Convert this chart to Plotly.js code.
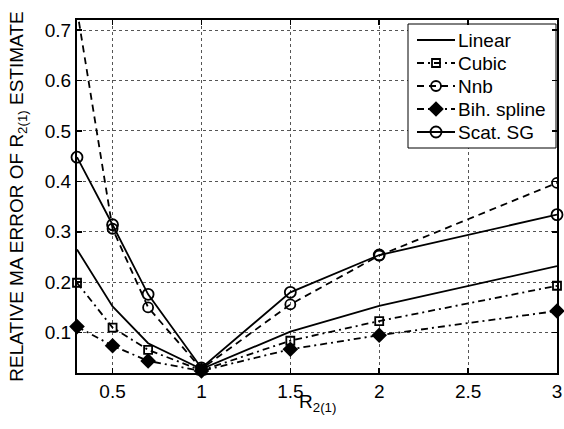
<!DOCTYPE html>
<html>
<head>
<meta charset="utf-8">
<script src="https://cdn.plot.ly/plotly-3.0.1.min.js"></script>
<style>html,body{margin:0;padding:0;background:#fff;}#chart{width:564px;height:429px;}</style>
</head>
<body>
<div id="chart"></div>
<script>
// ---- data ----
const xVals = [0.3, 0.5, 0.7, 1, 1.5, 2, 3];
const linearVals = [0.265, 0.152, 0.079, 0.028, 0.102, 0.153, 0.232];
const cubicVals = [0.199, 0.110, 0.066, 0.025, 0.084, 0.123, 0.193];
const nnbVals = [0.74, 0.306, 0.150, 0.028, 0.156, 0.253, 0.397];
const bihVals = [0.112, 0.074, 0.044, 0.024, 0.067, 0.095, 0.143];
const scatVals = [0.448, 0.314, 0.176, 0.030, 0.180, 0.254, 0.334];
const seriesNames = ["Linear", "Cubic", "Nnb", "Bih. spline", "Scat. SG"];
const xTicks = [0.5, 1, 1.5, 2, 2.5, 3];
const yTicks = [0.1, 0.2, 0.3, 0.4, 0.5, 0.6, 0.7];

// ---- styles ----
const FONT = "Liberation Sans, Arial, Helvetica, sans-serif";
const FS = 19;
const LW = 1.8;
const DASH = "7px,5px";
const DASHDOT = "7px,4px,2px,4px";
const styles = [
  {line: {color: "#000", width: LW}, marker: null},
  {line: {color: "#000", width: LW, dash: DASHDOT},
   marker: {symbol: "square-open", size: 8, color: "#000", line: {width: 1.8, color: "#000"}}},
  {line: {color: "#000", width: LW, dash: DASH},
   marker: {symbol: "circle-open", size: 10, color: "#000", line: {width: 1.8, color: "#000"}}},
  {line: {color: "#000", width: LW, dash: DASHDOT},
   marker: {symbol: "diamond", size: 12, color: "#000", line: {width: 0, color: "#000"}}},
  {line: {color: "#000", width: LW},
   marker: {symbol: "circle-open", size: 11, color: "#000", line: {width: 1.8, color: "#000"}}}
];
const seriesVals = [linearVals, cubicVals, nnbVals, bihVals, scatVals];
const clip = [true, false, true, false, false];

const X_RANGE = [0.3, 3], Y_RANGE = [0.02, 0.72];

const traces = seriesVals.map((vals, i) => {
  const t = {x: xVals, y: vals, name: seriesNames[i], showlegend: false,
             mode: styles[i].marker ? "lines+markers" : "lines",
             cliponaxis: clip[i], line: styles[i].line, hoverinfo: "skip"};
  if (styles[i].marker) t.marker = styles[i].marker;
  return t;
});

// ---- legend (drawn in a pixel-unit overlay frame) ----
const plotL = 77, plotR = 557, plotT = 20, plotB = 373;
const leg = {x0: 408, x1: 556, y0: 24, y1: 148, firstRow: 40, rowStep: 23,
             sampleX0: 417, sampleX1: 455, textX: 457};
const pxToX = px => X_RANGE[0] + (px - plotL) / (plotR - plotL) * (X_RANGE[1] - X_RANGE[0]);
const pxToY = py => Y_RANGE[1] - (py - plotT) / (plotB - plotT) * (Y_RANGE[1] - Y_RANGE[0]);
const legendAnn = [];
seriesNames.forEach((name, i) => {
  const ry = leg.firstRow + i * leg.rowStep;
  traces.push({x: [leg.sampleX0, leg.sampleX1], y: [ry, ry], xaxis: "x2", yaxis: "y2",
               mode: "lines", line: styles[i].line, showlegend: false, hoverinfo: "skip"});
  if (styles[i].marker) {
    traces.push({x: [(leg.sampleX0 + leg.sampleX1) / 2], y: [ry], xaxis: "x2", yaxis: "y2",
                 mode: "markers", marker: styles[i].marker, showlegend: false, hoverinfo: "skip"});
  }
  legendAnn.push({xref: "x2", yref: "y2", x: leg.textX, y: ry, text: name, showarrow: false,
                  xanchor: "left", yanchor: "middle", borderpad: 0,
                  font: {family: FONT, size: FS, color: "#000"}});
});

const axisCommon = {
  showline: true, linecolor: "#000", linewidth: 2, mirror: "allticks",
  ticks: "inside", ticklen: 5, tickwidth: 1.5, tickcolor: "#000",
  showgrid: true, gridcolor: "#555", gridwidth: 1, griddash: "dot",
  zeroline: false, tickfont: {family: FONT, size: FS, color: "#000"}
};

const layout = {
  width: 564, height: 429,
  margin: {l: plotL, r: 564 - plotR, t: plotT, b: 429 - plotB},
  paper_bgcolor: "#fff", plot_bgcolor: "#fff",
  font: {family: FONT, size: FS, color: "#000"},
  showlegend: false,
  xaxis: Object.assign({}, axisCommon, {
    range: X_RANGE, tickvals: xTicks, ticktext: xTicks.map(String)
  }),
  yaxis: Object.assign({}, axisCommon, {
    range: Y_RANGE, tickvals: yTicks, ticktext: yTicks.map(v => v.toFixed(1)),
    title: {text: "RELATIVE MA ERROR OF R<sub>2(1)</sub> ESTIMATE", font: {family: FONT, size: FS, color: "#000"}, standoff: 16}
  }),
  xaxis2: {overlaying: "x", anchor: "y2", range: [plotL, plotR], visible: false, fixedrange: true},
  yaxis2: {overlaying: "y", anchor: "x2", range: [plotB, plotT], visible: false, fixedrange: true},
  shapes: [{type: "rect", xref: "x", yref: "y",
            x0: pxToX(leg.x0), x1: pxToX(leg.x1), y0: pxToY(leg.y0), y1: pxToY(leg.y1),
            fillcolor: "#fff", line: {color: "#000", width: 1}, layer: "between"}],
  annotations: legendAnn.concat([
    {xref: "paper", yref: "paper", x: 0.5, y: -(390 - plotB) / (plotB - plotT), yanchor: "top",
     xanchor: "center", showarrow: false, borderpad: 0, text: "R<sub>2(1)</sub>",
     font: {family: FONT, size: FS, color: "#000"}}
  ])
};

Plotly.newPlot("chart", traces, layout, {staticPlot: true, displayModeBar: false});
</script>
</body>
</html>
